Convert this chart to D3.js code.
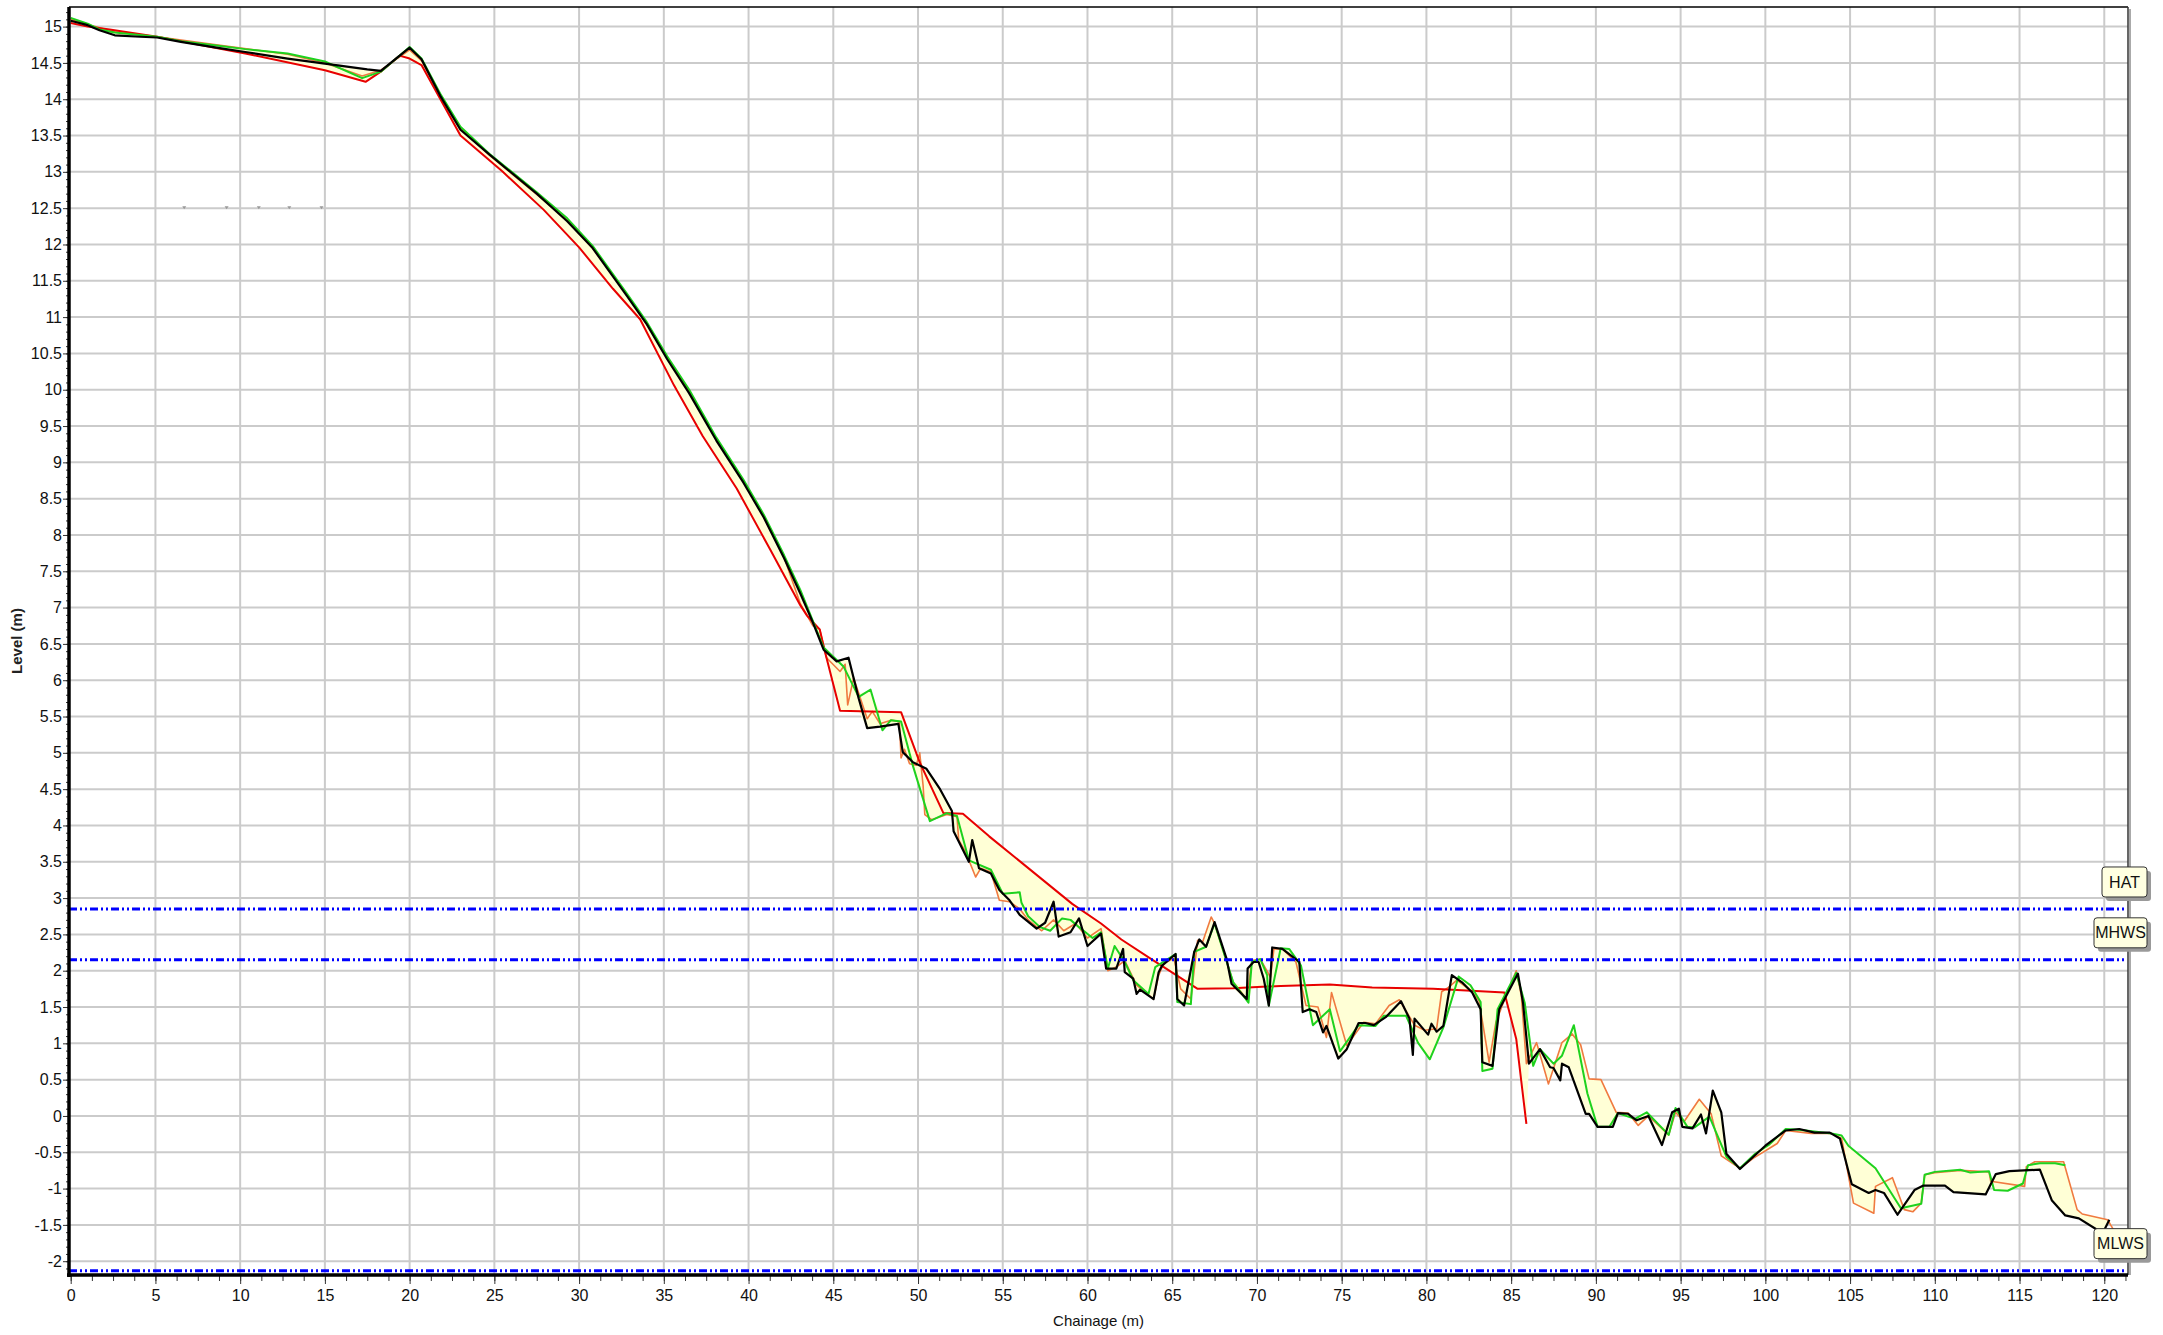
<!DOCTYPE html>
<html>
<head>
<meta charset="utf-8">
<script src="https://cdn.jsdelivr.net/npm/d3@7"></script>
<style>
  html, body { margin: 0; padding: 0; background: #fff; }
  svg { display: block; }
  .tick text { font-family: "Liberation Sans Narrow", "Arial Narrow", "Liberation Sans", sans-serif; font-size: 16px; fill: #111; }
</style>
</head>
<body>
<svg id="chart"></svg>
<script>
// chart size
let widthSvg = 2163;
let heightSvg = 1335;
let plot = ({left: 69, top: 7, right: 2128, bottom: 1275});

// profiles [chainage, level]
const blackProfile = [
  [0,15.08],[1.0,15.02],[1.7,14.95],[2.6,14.88],[4.1,14.86],[5.1,14.85],[6.5,14.79],[8.6,14.71],[10.3,14.65],
  [12.8,14.56],[15.0,14.49],[17.5,14.41],[18.3,14.39],[20.0,14.71],[20.7,14.55],[21.8,14.05],[23.0,13.58],
  [24.7,13.24],[27.5,12.7],[29.3,12.32],[30.8,11.95],[32.8,11.3],[34.0,10.9],[35.2,10.42],[36.5,9.95],
  [38.1,9.3],[39.7,8.72],[40.9,8.24],[42.1,7.68],[43.06,7.19],[43.75,6.82],[44.43,6.42],[45.2,6.26],
  [45.9,6.31],[46.5,5.75],[47.0,5.34],[47.76,5.36],[48.84,5.40],[49.1,5.01],[49.7,4.87],[50.5,4.78],
  [51.3,4.50],[52.0,4.20],[52.1,3.92],[53.0,3.50],[53.2,3.80],[53.6,3.41],[54.3,3.34],[54.8,3.11],
  [55.4,2.97],[56.0,2.77],[57.0,2.58],[57.5,2.66],[58.0,2.95],[58.3,2.47],[59.0,2.53],[59.5,2.72],
  [60.0,2.34],[60.8,2.51],[61.1,2.03],[61.7,2.03],[62.1,2.30],[62.2,1.98],[62.7,1.89],[62.9,1.68],
  [63.1,1.74],[63.9,1.61],[64.2,1.98],[64.4,2.07],[65.2,2.23],[65.3,1.61],[65.7,1.52],[66.3,2.26],
  [66.6,2.43],[67.0,2.33],[67.5,2.67],[68.2,2.17],[68.5,1.82],[69.4,1.61],[69.45,2.03],[69.8,2.12],
  [70.1,2.12],[70.4,1.89],[70.7,1.52],[70.9,2.32],[71.5,2.30],[72.5,2.12],[72.7,1.43],[73.1,1.47],
  [73.5,1.43],[73.9,1.15],[74.1,1.24],[74.8,0.79],[75.3,0.92],[76.0,1.28],[76.4,1.28],[76.9,1.25],
  [77.6,1.36],[78.5,1.58],[79.0,1.34],[79.2,0.84],[79.3,1.34],[80.1,1.12],[80.3,1.27],[80.6,1.16],
  [81.0,1.24],[81.5,1.94],[82.1,1.84],[82.7,1.70],[83.2,1.47],[83.3,0.74],[83.9,0.69],[84.3,1.47],
  [85.4,1.96],[85.7,1.56],[86.05,0.72],[86.7,0.92],[87.3,0.67],[87.5,0.66],[87.9,0.49],[88.0,0.72],
  [88.4,0.67],[89.4,0.03],[89.6,0.03],[90.1,-0.15],[91.0,-0.15],[91.3,0.04],[91.9,0.03],[92.4,-0.06],
  [93.1,0.0],[93.9,-0.40],[94.5,0.05],[94.9,0.10],[95.1,-0.15],[95.7,-0.17],[96.2,0.02],[96.5,-0.24],
  [96.9,0.35],[97.4,0.05],[97.7,-0.52],[98.5,-0.73],[100.0,-0.41],[101.2,-0.20],[102.0,-0.18],
  [102.9,-0.23],[103.8,-0.23],[104.4,-0.31],[105.1,-0.94],[106.1,-1.06],[106.5,-1.02],[107.0,-1.06],
  [107.8,-1.36],[108.8,-1.02],[109.3,-0.96],[110.6,-0.96],[111.1,-1.05],[113.0,-1.08],[113.6,-0.80],
  [114.4,-0.76],[116.2,-0.74],[116.9,-1.16],[117.7,-1.37],[118.5,-1.41],[119.6,-1.57],[120.0,-1.57],
  [120.3,-1.43]
];
const greenProfile = [
  [0,15.12],[1.0,15.04],[1.7,14.96],[2.6,14.92],[5.1,14.86],[6.5,14.80],[8.6,14.74],[10.3,14.69],
  [12.8,14.63],[15.0,14.52],[17.2,14.29],[18.3,14.38],[20.0,14.72],[20.7,14.56],[21.8,14.08],[23.0,13.62],
  [24.7,13.25],[27.5,12.72],[29.3,12.36],[30.8,11.98],[32.8,11.33],[34.0,10.93],[35.2,10.46],[36.5,10.0],
  [38.1,9.34],[39.7,8.76],[40.9,8.28],[42.1,7.72],[43.06,7.24],[44.43,6.45],[45.6,6.19],[46.5,5.77],
  [47.2,5.87],[47.9,5.31],[48.4,5.45],[49.0,5.43],[49.7,4.82],[50.7,4.06],[51.7,4.17],[52.3,4.13],
  [53.0,3.52],[54.3,3.39],[55.0,3.06],[56.0,3.08],[56.1,2.94],[56.5,2.75],[57.2,2.60],[57.8,2.55],
  [58.5,2.72],[59.0,2.70],[59.5,2.60],[60.3,2.45],[60.8,2.53],[61.2,2.03],[61.6,2.34],[62.2,2.12],
  [62.7,1.87],[63.6,1.68],[64.0,2.05],[65.2,2.23],[65.3,1.57],[66.1,1.54],[66.3,2.26],[67.0,2.33],
  [67.5,2.65],[68.6,1.84],[69.5,1.56],[69.7,2.12],[70.2,2.16],[70.6,1.94],[70.7,1.52],[71.4,2.31],
  [71.9,2.30],[72.6,2.07],[73.3,1.25],[74.3,1.47],[74.9,0.89],[76.0,1.25],[77.0,1.24],[77.5,1.38],
  [78.8,1.38],[79.5,1.01],[80.2,0.78],[81.0,1.22],[81.9,1.92],[82.6,1.80],[83.2,1.57],[83.3,0.62],
  [83.9,0.65],[84.2,1.47],[85.3,1.97],[85.8,1.56],[86.3,0.69],[86.7,0.92],[87.5,0.72],[88.0,0.83],
  [88.7,1.25],[89.5,0.31],[90.1,-0.15],[90.8,-0.15],[91.3,0.04],[92.3,-0.04],[93.0,0.05],[94.3,-0.26],
  [94.7,0.11],[95.4,-0.15],[95.8,-0.16],[96.7,-0.01],[97.7,-0.56],[98.5,-0.72],[99.4,-0.52],[100.2,-0.40],
  [101.2,-0.18],[102.0,-0.19],[103.9,-0.24],[104.5,-0.27],[104.9,-0.41],[106.5,-0.72],[108.0,-1.27],
  [109.2,-1.21],[109.4,-0.81],[110.0,-0.77],[111.5,-0.74],[112.1,-0.78],[113.2,-0.76],[113.5,-1.02],
  [114.3,-1.03],[115.2,-0.93],[115.5,-0.68],[116.2,-0.65],[117.1,-0.65],[117.7,-0.68]
];
const orangeProfile = [
  [0,15.10],[1.0,15.03],[2.6,14.93],[5.1,14.86],[8.6,14.75],[12.8,14.62],[15.0,14.50],[17.2,14.32],
  [18.3,14.40],[20.0,14.68],[20.7,14.53],[21.8,14.06],[23.0,13.60],[24.7,13.23],[27.5,12.69],[29.3,12.33],
  [30.8,11.95],[32.8,11.31],[34.0,10.90],[35.2,10.44],[36.5,9.97],[38.1,9.31],[39.7,8.73],[40.9,8.25],
  [42.1,7.69],[43.06,7.05],[43.8,6.75],[44.2,6.70],[44.6,6.31],[45.4,6.12],[45.7,6.22],[45.85,5.66],
  [46.2,6.03],[47.0,5.47],[47.3,5.57],[47.76,5.40],[48.4,5.45],[48.9,5.43],[49.0,4.93],[49.2,5.05],
  [49.5,4.85],[49.9,4.83],[50.1,5.00],[50.3,4.55],[50.4,4.15],[50.8,4.08],[51.7,4.15],[52.3,4.12],
  [52.4,3.80],[52.8,3.64],[53.4,3.29],[53.7,3.41],[54.3,3.36],[54.8,2.97],[55.4,2.95],[56.0,2.85],
  [56.5,2.70],[57.3,2.55],[58.0,2.70],[58.6,2.55],[59.3,2.65],[60.0,2.45],[60.8,2.58],[61.2,2.00],
  [61.7,2.05],[62.2,2.14],[62.9,1.80],[63.9,1.61],[64.2,1.94],[64.5,2.10],[65.1,2.17],[65.5,1.75],
  [66.1,1.61],[66.5,2.42],[66.8,2.40],[67.3,2.74],[67.5,2.65],[68.6,1.84],[69.4,1.61],[69.7,2.14],
  [70.2,2.16],[70.8,1.91],[71.0,2.30],[71.5,2.30],[72.3,2.12],[72.9,1.52],[73.6,1.50],[74.1,1.08],
  [74.4,1.70],[75.3,0.97],[76.3,1.29],[77.0,1.27],[77.8,1.52],[78.4,1.60],[79.3,1.25],[79.9,1.18],
  [80.6,1.20],[80.9,1.71],[81.3,1.77],[81.8,1.87],[82.6,1.73],[83.1,1.59],[83.7,0.74],[84.1,1.29],
  [84.7,1.66],[85.3,2.00],[85.6,1.66],[85.9,0.72],[86.5,1.01],[87.2,0.44],[88.0,1.01],[88.6,1.13],
  [89.1,0.98],[89.6,0.51],[90.3,0.50],[91.2,0.05],[91.9,0.04],[92.5,-0.13],[93.1,0.0],[94.3,-0.26],
  [94.7,0.05],[95.2,-0.08],[96.1,0.23],[96.8,0.03],[97.4,-0.55],[98.5,-0.72],[99.3,-0.58],[100.7,-0.38],
  [101.2,-0.20],[102.7,-0.24],[103.9,-0.24],[104.5,-0.31],[105.2,-1.20],[106.4,-1.34],[106.5,-0.97],
  [107.5,-0.85],[108.2,-1.29],[108.7,-1.32],[109.2,-1.20],[109.4,-0.81],[110.0,-0.78],[111.5,-0.75],
  [113.2,-0.77],[113.3,-0.90],[115.3,-0.97],[115.4,-0.70],[115.9,-0.63],[117.6,-0.63],[118.4,-1.29],
  [118.7,-1.35],[120.2,-1.43],[120.6,-1.59]
];
const redProfile = [
  [0,15.05],[1.0,15.00],[2.3,14.96],[5.1,14.86],[10.3,14.63],[15.0,14.40],[17.4,14.24],[18.3,14.38],
  [19.4,14.60],[20.0,14.56],[20.7,14.47],[23.0,13.50],[25.5,13.00],[27.9,12.48],[30.0,11.96],[32.0,11.39],
  [33.6,10.97],[35.6,10.06],[37.3,9.36],[39.3,8.64],[41.3,7.79],[43.06,7.03],[43.45,6.89],[44.2,6.70],
  [44.5,6.40],[45.4,5.58],[49.0,5.56],[50.1,4.87],[51.5,4.17],[52.65,4.16],[54.2,3.85],[59.1,2.92],
  [60.8,2.65],[62.0,2.43],[63.7,2.17],[66.5,1.75],[68.6,1.76],[71.4,1.79],[74.3,1.81],[76.8,1.77],
  [80.4,1.75],[84.6,1.70],[85.3,1.06],[85.9,-0.11]
];

const profileColors = ["#f07a40", "#e80000", "#1ed21e", "#000000"];
const profileWidths = [1.6, 2, 2, 2.2];

// tide levels
const tideNames = ["HAT", "MHWS", "MLWS"];
const tideLevels = [2.85, 2.15, -2.13];

// stray markers at 12.5 m
const markerChainage = [6.7, 9.2, 11.1, 12.9, 14.8];
const markerLevel = 12.5;

const svg = d3.select("#chart").attr("width", widthSvg).attr("height", heightSvg);

let x = d3.scaleLinear().domain([-0.1, 121.4]).range([plot.left, plot.right]);
let y = d3.scaleLinear().domain([-2.19, 15.27]).range([plot.bottom, plot.top]);

// grid
svg.append("g").selectAll("line").data(d3.range(-2, 15.01, 0.5)).join("line")
    .attr("x1", plot.left).attr("x2", plot.right)
    .attr("y1", d => y(d)).attr("y2", d => y(d))
    .attr("stroke", "#cbcbcb").attr("stroke-width", 2);
svg.append("g").selectAll("line").data(d3.range(5, 121, 5)).join("line")
    .attr("x1", d => x(d)).attr("x2", d => x(d))
    .attr("y1", plot.top).attr("y2", plot.bottom)
    .attr("stroke", "#cbcbcb").attr("stroke-width", 2);

// envelope between profiles
let profiles = [orangeProfile, redProfile, greenProfile, blackProfile];
function levelAt(p, c){
    if (c < p[0][0] || c > p[p.length-1][0]) return null;
    let i = d3.bisector(d => d[0]).left(p, c);
    if (i === 0) return p[0][1];
    let a = p[i-1], b = p[i];
    if (b[0] === a[0]) return b[1];
    return a[1] + (b[1]-a[1])*(c-a[0])/(b[0]-a[0]);
}
let allC = Array.from(new Set(profiles.flatMap(p => p.map(d => d[0])))).sort((a,b) => a-b);
let envelope = allC.map(c => {
    let vals = profiles.map(p => levelAt(p, c)).filter(v => v !== null);
    return {c: c, lo: d3.min(vals), hi: d3.max(vals)};
});
svg.append("path").datum(envelope)
    .attr("fill", "#ffffd6")
    .attr("stroke", "none")
    .attr("d", d3.area().x(d => x(d.c)).y0(d => y(d.lo)).y1(d => y(d.hi)));

// markers
svg.append("g").selectAll("path").data(markerChainage).join("path")
    .attr("d", d => `M${x(d)-2},${y(markerLevel)-2}L${x(d)+2},${y(markerLevel)-2}L${x(d)},${y(markerLevel)+1}Z`)
    .attr("fill", "#999");

// profiles
let line = d3.line().x(d => x(d[0])).y(d => y(d[1]));
svg.append("g").selectAll("path").data(profiles).join("path")
    .attr("fill", "none")
    .attr("stroke", (d,i) => profileColors[i])
    .attr("stroke-width", (d,i) => profileWidths[i])
    .attr("stroke-linejoin", "round")
    .attr("d", line);

// tide lines
svg.append("g").selectAll("line").data(tideLevels).join("line")
    .attr("x1", plot.left).attr("x2", plot.right - 3)
    .attr("y1", d => y(d)).attr("y2", d => y(d))
    .attr("stroke", "#0000ff").attr("stroke-width", 3)
    .attr("stroke-dasharray", "8,3,2,3,2,3");

// frame
svg.append("line").attr("x1", plot.left).attr("x2", plot.right).attr("y1", plot.top).attr("y2", plot.top)
    .attr("stroke", "#000").attr("stroke-width", 1.5);
svg.append("line").attr("x1", plot.right + 2).attr("x2", plot.right + 2).attr("y1", plot.top + 2).attr("y2", plot.bottom)
    .attr("stroke", "#aaa").attr("stroke-width", 2);
svg.append("line").attr("x1", plot.right).attr("x2", plot.right).attr("y1", plot.top).attr("y2", plot.bottom)
    .attr("stroke", "#333").attr("stroke-width", 1.5);

// axes
let fmt = d => String(+d.toFixed(1));
let yAxis = svg.append("g").attr("transform", `translate(${plot.left},0)`)
    .call(d3.axisLeft(y).tickValues(d3.range(-2, 15.01, 0.5)).tickFormat(fmt).tickSize(6).tickPadding(1));
let yMinor = svg.append("g").attr("transform", `translate(${plot.left},0)`)
    .call(d3.axisLeft(y).tickValues(d3.range(-2.1, 15.25, 0.1)).tickFormat("").tickSize(3));
let xAxis = svg.append("g").attr("transform", `translate(0,${plot.bottom})`)
    .call(d3.axisBottom(x).tickValues(d3.range(0, 121, 5)).tickFormat(fmt).tickSize(9).tickPadding(6));
let xMinor = svg.append("g").attr("transform", `translate(0,${plot.bottom})`)
    .call(d3.axisBottom(x).tickValues(d3.range(0, 121.3, 1.25)).tickFormat("").tickSize(6));
[yAxis, yMinor, xAxis, xMinor].forEach(g => {
    g.select(".domain").remove();
    g.selectAll(".tick line").attr("stroke", "#333").attr("stroke-width", 1);
});

svg.append("line").attr("x1", plot.left).attr("x2", plot.left).attr("y1", plot.top).attr("y2", plot.bottom + 2)
    .attr("stroke", "#000").attr("stroke-width", 3.5);
svg.append("line").attr("x1", plot.left - 2).attr("x2", plot.right).attr("y1", plot.bottom).attr("y2", plot.bottom)
    .attr("stroke", "#000").attr("stroke-width", 3.5);

// axis titles
svg.append("text")
    .attr("transform", `translate(22,${(plot.top + plot.bottom)/2}) rotate(-90)`)
    .attr("text-anchor", "middle")
    .style("font-family", "'Liberation Sans', Arial, sans-serif")
    .style("font-size", "15px").style("font-weight", "bold").style("fill", "#222")
    .text("Level (m)");
svg.append("text")
    .attr("x", (plot.left + plot.right)/2).attr("y", 1326)
    .attr("text-anchor", "middle")
    .style("font-family", "'Liberation Sans Narrow', 'Arial Narrow', 'Liberation Sans', sans-serif")
    .style("font-size", "15px").style("fill", "#111")
    .text("Chainage (m)");

// tide labels
let tag = svg.append("g").selectAll("g").data(tideNames).join("g")
    .attr("transform", (d,i) => `translate(2147,${y(tideLevels[i]) - 12})`);
let tagW = d => d.length > 3 ? 53 : 45;
tag.append("rect")
    .attr("x", d => -tagW(d) + 4).attr("y", -30 + 4).attr("width", d => tagW(d)).attr("height", 30)
    .attr("rx", 3).attr("fill", "#9a9a9a");
tag.append("rect")
    .attr("x", d => -tagW(d)).attr("y", -30).attr("width", d => tagW(d)).attr("height", 30)
    .attr("rx", 3).attr("fill", "#ffffe1").attr("stroke", "#333").attr("stroke-width", 1);
tag.append("text")
    .attr("x", d => -tagW(d)/2).attr("y", -15).attr("dy", "0.35em")
    .attr("text-anchor", "middle")
    .style("font-family", "'Liberation Sans Narrow', 'Arial Narrow', 'Liberation Sans', sans-serif")
    .style("font-size", "16px").style("fill", "#111")
    .text(d => d);
</script>
</body>
</html>
